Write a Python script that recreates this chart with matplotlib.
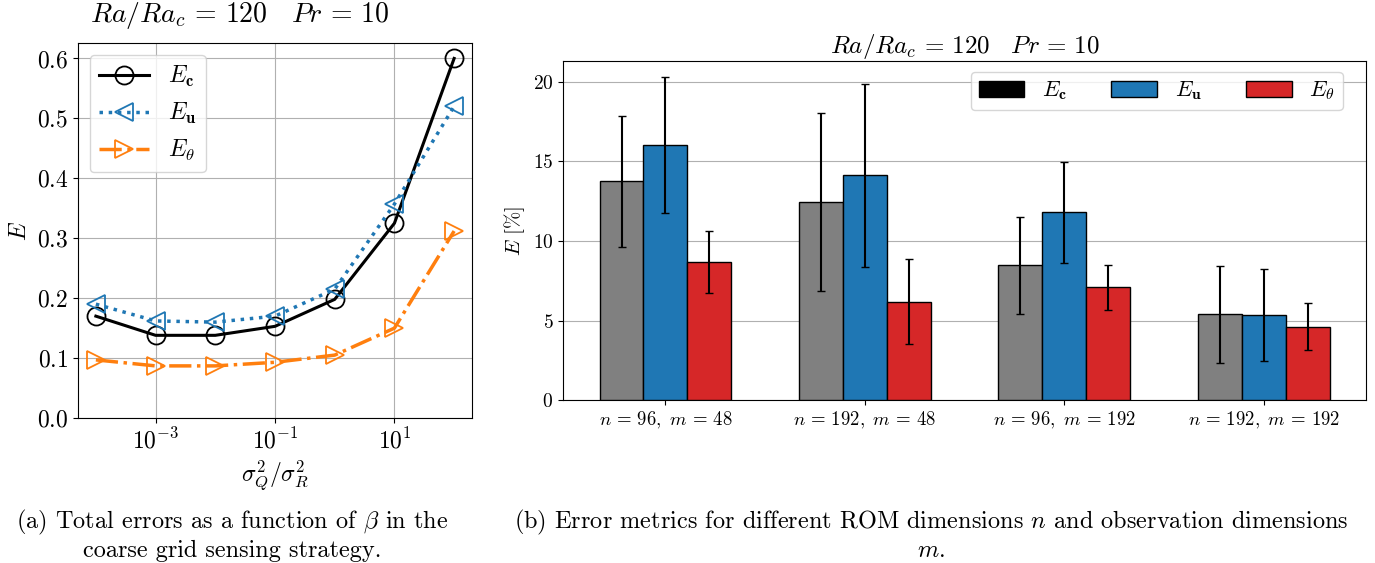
#!/usr/bin/env python3
import matplotlib
matplotlib.use("Agg")
import matplotlib.pyplot as plt
from matplotlib.patches import Patch
import numpy as np

plt.rcParams['font.family'] = 'serif'
plt.rcParams['font.serif'] = ['cmr10', 'DejaVu Serif']
plt.rcParams['mathtext.fontset'] = 'cm'
plt.rcParams['axes.formatter.use_mathtext'] = True
plt.rcParams['axes.unicode_minus'] = False

# left panel: errors vs noise ratio
ratio = [1e-4, 1e-3, 1e-2, 1e-1, 1e0, 1e1, 1e2]
err_c = [0.170, 0.138, 0.138, 0.153, 0.198, 0.325, 0.600]
err_u = [0.190, 0.162, 0.160, 0.170, 0.215, 0.357, 0.520]
err_t = [0.097, 0.087, 0.087, 0.093, 0.105, 0.150, 0.312]

# right panel: errors per ROM / observation dimension
groups = [r'$n\,=\,96,\ m\,=\,48$', r'$n\,=\,192,\ m\,=\,48$',
          r'$n\,=\,96,\ m\,=\,192$', r'$n\,=\,192,\ m\,=\,192$']
bar_c = [13.75, 12.45, 8.48, 5.38]
bar_u = [16.02, 14.12, 11.81, 5.36]
bar_t = [8.69, 6.18, 7.08, 4.61]
std_c = [4.10, 5.57, 3.06, 3.03]
std_u = [4.28, 5.73, 3.18, 2.89]
std_t = [1.94, 2.68, 1.40, 1.46]

lab_c = r'$E_{\mathbf{c}}$'
lab_u = r'$E_{\mathbf{u}}$'
lab_t = r'$E_{\theta}$'
title = r'$Ra/Ra_c\,=\,120 \quad Pr\,=\,10$'

fig = plt.figure(figsize=(13.75, 5.63), dpi=100)

# ---- (a)
ax1 = fig.add_axes([0.0567, 0.2575, 0.2866, 0.666])
ax1.plot(ratio, err_c, color='k', lw=2.2, marker='o', ms=13,
         mfc='none', mew=1.3, label=lab_c)
ax1.plot(ratio, err_u, color='#1f77b4', lw=2.5, ls=':', marker='<', ms=13,
         mfc='none', mew=1.3, label=lab_u)
ax1.plot(ratio, err_t, color='#ff7f0e', lw=2.5, ls='-.', marker='>', ms=13,
         mfc='none', mew=1.3, label=lab_t)
ax1.set_xscale('log')
ax1.set_xticks([1e-3, 1e-1, 1e1])
ax1.xaxis.set_minor_locator(matplotlib.ticker.NullLocator())
ax1.set_ylim(bottom=0)
ax1.set_yticks(np.arange(0, 0.61, 0.1))
ax1.grid(True, color='#b0b0b0', lw=0.8)
ax1.tick_params(labelsize=17)
ax1.set_ylabel('$E$', fontsize=17)
ax1.set_xlabel(r'$\sigma_Q^2/\sigma_R^2$', fontsize=17)
ax1.legend(loc='upper left', fontsize=17, handlelength=2.1)
fig.text(0.1745, 0.972, title, ha='center', va='center', fontsize=20)

# ---- (b)
ax2 = fig.add_axes([0.4095, 0.2895, 0.584, 0.602])
x = np.arange(len(groups))
w = 0.22
ax2.bar(x - w, bar_c, w, yerr=std_c, color='gray', edgecolor='k',
        capsize=3, zorder=3)
ax2.bar(x, bar_u, w, yerr=std_u, color='#1f77b4', edgecolor='k',
        capsize=3, zorder=3)
ax2.bar(x + w, bar_t, w, yerr=std_t, color='#d62728', edgecolor='k',
        capsize=3, zorder=3)
ax2.set_xticks(x)
ax2.set_xticklabels(groups)
ax2.yaxis.grid(True, color='#b0b0b0', lw=0.8, zorder=0)
ax2.set_axisbelow(True)
ax2.tick_params(labelsize=14)
ax2.tick_params(axis='x', labelsize=13.5)
ax2.set_ylabel(r'$E\ [\%]$', fontsize=15)
ax2.set_title(title, fontsize=18)
handles = [Patch(facecolor='k', edgecolor='k'),
           Patch(facecolor='#1f77b4', edgecolor='k'),
           Patch(facecolor='#d62728', edgecolor='k')]
ax2.legend(handles, [lab_c, lab_u, lab_t], loc='upper right', ncol=3,
           bbox_to_anchor=(0.971, 0.968), borderaxespad=0, borderpad=0.35,
           fontsize=16, handlelength=2.05, columnspacing=2.0)

# captions
fig.text(0.169, 0.05, '(a) Total errors as a function of $\\beta$ in the\ncoarse grid sensing strategy.',
         ha='center', va='center', fontsize=17.5, linespacing=1.2)
fig.text(0.677, 0.05, '(b) Error metrics for different ROM dimensions $n$ and observation dimensions\n$m$.',
         ha='center', va='center', fontsize=17.5, linespacing=1.2)

fig.savefig('out.png', dpi=100)
